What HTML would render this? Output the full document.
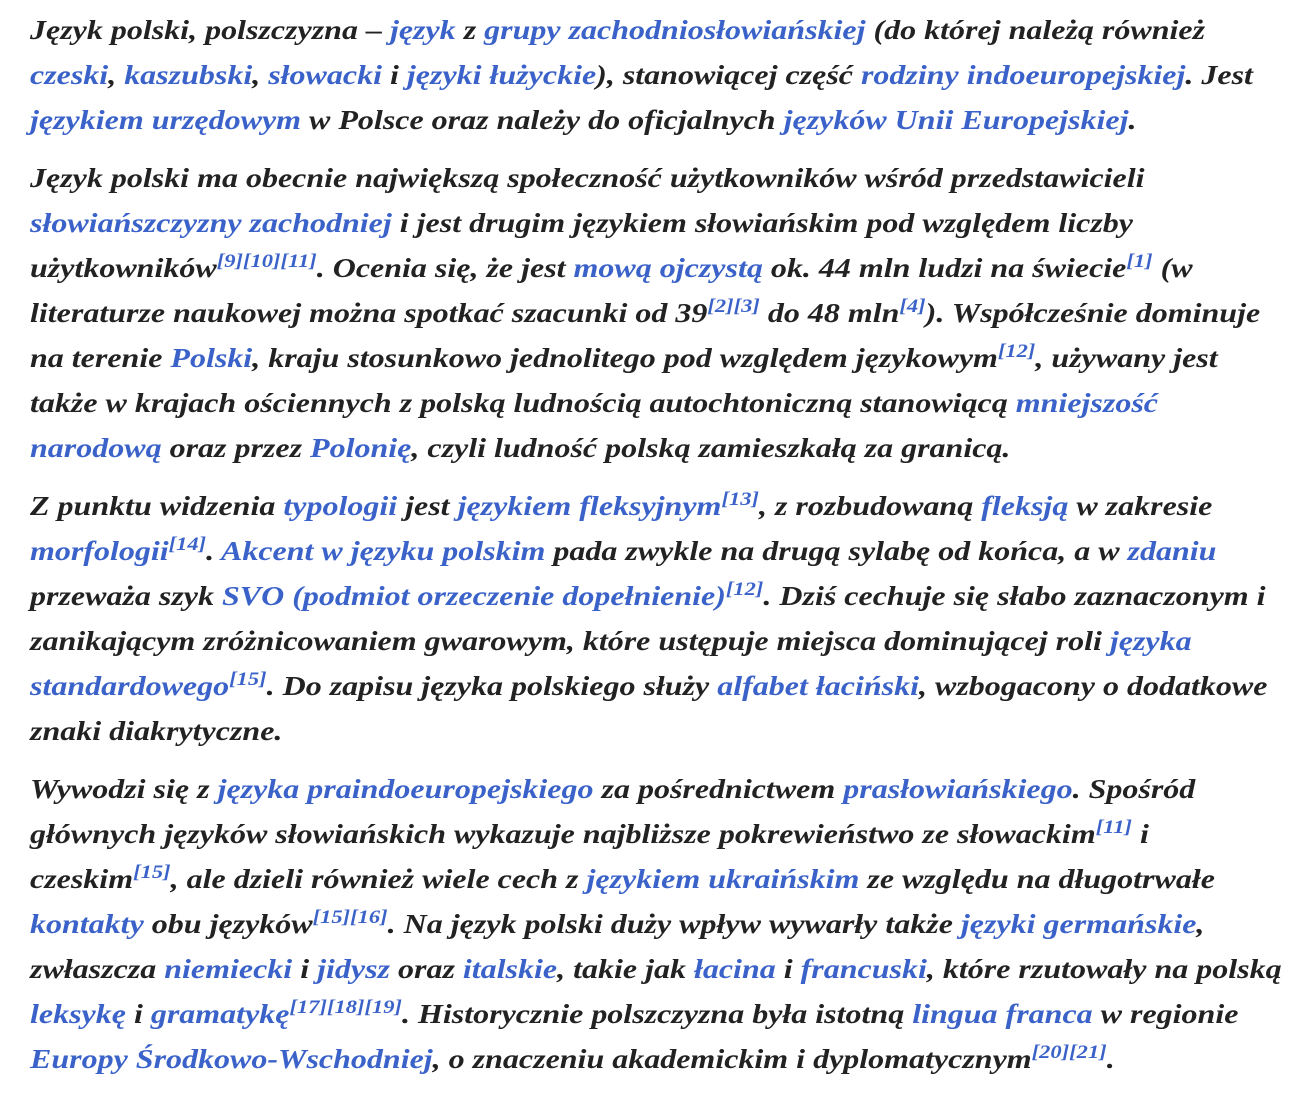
<!DOCTYPE html>
<html lang="pl">
<head>
<meta charset="utf-8">
<style>
  html,body{margin:0;padding:0;background:#fff;}
  body{width:1294px;height:1098px;overflow:hidden;position:relative;}
  .content{position:absolute;left:30px;top:8px;width:1100px;
    transform:scaleX(1.185);transform-origin:0 0;
    font-family:"Liberation Serif","DejaVu Serif",serif;font-style:italic;font-weight:bold;
    font-size:27px;line-height:45px;color:#222;white-space:nowrap;}
  p{margin:0 0 13px 0;}
  a{color:#3a62c9;text-decoration:none;}
  sup{font-size:19px;line-height:0;vertical-align:10px;color:#3a62c9;}
</style>
</head>
<body>
<div class="content">
<p>Język polski, polszczyzna – <a href="#">język</a> z <a href="#">grupy zachodniosłowiańskiej</a> (do której należą również<br>
<a href="#">czeski</a>, <a href="#">kaszubski</a>, <a href="#">słowacki</a> i <a href="#">języki łużyckie</a>), stanowiącej część <a href="#">rodziny indoeuropejskiej</a>. Jest<br>
<a href="#">językiem urzędowym</a> w Polsce oraz należy do oficjalnych <a href="#">języków Unii Europejskiej</a>.</p>
<p>Język polski ma obecnie największą społeczność użytkowników wśród przedstawicieli<br>
<a href="#">słowiańszczyzny zachodniej</a> i jest drugim językiem słowiańskim pod względem liczby<br>
użytkowników<sup>[9][10][11]</sup>. Ocenia się, że jest <a href="#">mową ojczystą</a> ok. 44 mln ludzi na świecie<sup>[1]</sup> (w<br>
literaturze naukowej można spotkać szacunki od 39<sup>[2][3]</sup> do 48 mln<sup>[4]</sup>). Współcześnie dominuje<br>
na terenie <a href="#">Polski</a>, kraju stosunkowo jednolitego pod względem językowym<sup>[12]</sup>, używany jest<br>
także w krajach ościennych z polską ludnością autochtoniczną stanowiącą <a href="#">mniejszość</a><br>
<a href="#">narodową</a> oraz przez <a href="#">Polonię</a>, czyli ludność polską zamieszkałą za granicą.</p>
<p>Z punktu widzenia <a href="#">typologii</a> jest <a href="#">językiem fleksyjnym</a><sup>[13]</sup>, z rozbudowaną <a href="#">fleksją</a> w zakresie<br>
<a href="#">morfologii</a><sup>[14]</sup>. <a href="#">Akcent w języku polskim</a> pada zwykle na drugą sylabę od końca, a w <a href="#">zdaniu</a><br>
przeważa szyk <a href="#">SVO (podmiot orzeczenie dopełnienie)</a><sup>[12]</sup>. Dziś cechuje się słabo zaznaczonym i<br>
zanikającym zróżnicowaniem gwarowym, które ustępuje miejsca dominującej roli <a href="#">języka</a><br>
<a href="#">standardowego</a><sup>[15]</sup>. Do zapisu języka polskiego służy <a href="#">alfabet łaciński</a>, wzbogacony o dodatkowe<br>
znaki diakrytyczne.</p>
<p>Wywodzi się z <a href="#">języka praindoeuropejskiego</a> za pośrednictwem <a href="#">prasłowiańskiego</a>. Spośród<br>
głównych języków słowiańskich wykazuje najbliższe pokrewieństwo ze słowackim<sup>[11]</sup> i<br>
czeskim<sup>[15]</sup>, ale dzieli również wiele cech z <a href="#">językiem ukraińskim</a> ze względu na długotrwałe<br>
<a href="#">kontakty</a> obu języków<sup>[15][16]</sup>. Na język polski duży wpływ wywarły także <a href="#">języki germańskie</a>,<br>
zwłaszcza <a href="#">niemiecki</a> i <a href="#">jidysz</a> oraz <a href="#">italskie</a>, takie jak <a href="#">łacina</a> i <a href="#">francuski</a>, które rzutowały na polską<br>
<a href="#">leksykę</a> i <a href="#">gramatykę</a><sup>[17][18][19]</sup>. Historycznie polszczyzna była istotną <a href="#">lingua franca</a> w regionie<br>
<a href="#">Europy Środkowo-Wschodniej</a>, o znaczeniu akademickim i dyplomatycznym<sup>[20][21]</sup>.</p>
</div>
</body>
</html>
